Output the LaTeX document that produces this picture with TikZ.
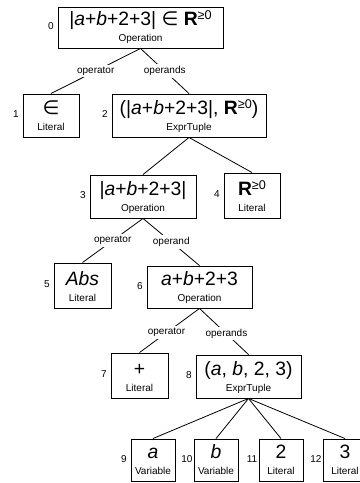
\documentclass[tikz,border=0pt]{standalone}
\usepackage{fontspec}
\setmainfont{Liberation Sans}
\newfontfamily\djv{DejaVu Sans}
\newcommand\Rge{\textbf{R}\raisebox{4.5pt}{\fontsize{9.5}{10}\selectfont ≥0}}
\newcommand\elm{{\djv ∈}}
\newcommand\tnode[8]{%
  \pgfmathsetmacro\tnX{(#2+#3)/2}%
  \pgfmathsetmacro\tnY{(#4+#5)/2}%
  \pgfmathsetmacro\tnW{(#3-#2)*0.75}%
  \pgfmathsetmacro\tnH{(#5-#4)*0.75}%
  \node[box, minimum width=\tnW pt, minimum height=\tnH pt] (#1) at (\tnX,\tnY) {};
  \node[maintxt, anchor=base] (#1m) at (\tnX,#5-23) {#6};
  \node[typetxt, anchor=base] (#1t) at (\tnX,#5-7) {#7};
  \node[idxtxt] (#1i) at (#2-7,\tnY-1) {#8};
}
\begin{document}
\begin{tikzpicture}[x=0.75pt,y=-0.75pt,
  box/.style={draw, line width=0.7pt, inner sep=0pt},
  maintxt/.style={font=\fontsize{14.5}{17}\selectfont, inner sep=0pt},
  typetxt/.style={font=\fontsize{7.5}{9}\selectfont, inner sep=0pt},
  idxtxt/.style={font=\fontsize{7.5}{9}\selectfont, inner sep=0pt},
  elabel/.style={font=\fontsize{7.5}{9}\selectfont, fill=white, inner sep=1.5pt},
  conn/.style={line width=0.6pt}]
\useasboundingbox[fill=white] (0,0) rectangle (360,483);
\tnode{n0}{58}{223}{7}{48}{|\textit{a}+\textit{b}+2+3| \elm\ \Rge}{Operation}{0}
\tnode{n1}{23}{79}{94}{137}{\elm}{Literal}{1}
\tnode{n2}{112}{266}{94}{137}{(|\textit{a}+\textit{b}+2+3|, \Rge)}{ExprTuple}{2}
\tnode{n3}{90}{196}{175}{218}{|\textit{a}+\textit{b}+2+3|}{Operation}{3}
\tnode{n4}{224}{280}{173}{218}{\Rge}{Literal}{4}
\tnode{n5}{54}{111}{263}{308}{\textit{Abs}}{Literal}{5}
\tnode{n6}{147}{252}{266}{308}{\textit{a}+\textit{b}+2+3}{Operation}{6}
\tnode{n7}{111}{168}{353}{398}{+}{Literal}{7}
\tnode{n8}{196}{301}{355}{398}{(\textit{a}, \textit{b}, 2, 3)}{ExprTuple}{8}
\tnode{n9}{131}{175}{439}{481}{\textit{a}}{Variable}{9}
\tnode{n10}{194}{238}{439}{481}{\textit{b}}{Variable}{10}
\tnode{n11}{259}{303}{439}{481}{2}{Literal}{11}
\tnode{n12}{323}{367}{439}{481}{3}{Literal}{12}
\draw[conn] (n0.south) -- node[elabel] (l01) {operator} (n1.north);
\draw[conn] (n0.south) -- node[elabel] (l02) {operands} (n2.north);
\draw[conn] (n2.south) -- (n3.north);
\draw[conn] (n2.south) -- (n4.north);
\draw[conn] (n3.south) -- node[elabel] (l35) {operator} (n5.north);
\draw[conn] (n3.south) -- node[elabel] (l36) {operand} (n6.north);
\draw[conn] (n6.south) -- node[elabel, pos=0.55] (l67) {operator} (n7.north);
\draw[conn] (n6.south) -- node[elabel, pos=0.55] (l68) {operands} (n8.north);
\draw[conn] (n8.south) -- (n9.north);
\draw[conn] (n8.south) -- (n10.north);
\draw[conn] (n8.south) -- (n11.north);
\draw[conn] (n8.south) -- (n12.north);
\end{tikzpicture}
\end{document}
